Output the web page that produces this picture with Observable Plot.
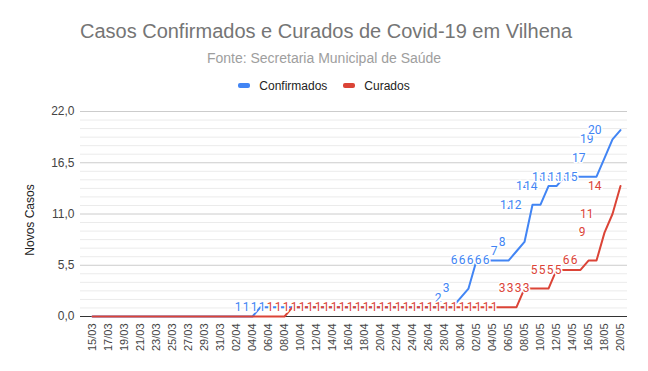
<!DOCTYPE html>
<html>
<head>
<meta charset="utf-8">
<script src="https://cdn.jsdelivr.net/npm/d3@7"></script>
<script src="https://cdn.jsdelivr.net/npm/@observablehq/plot@0.6"></script>
<style>
  html, body { margin: 0; padding: 0; background: #fff; }
  #wrap { position: relative; width: 648px; height: 371px; overflow: hidden; font-family: "Liberation Sans", Arial, sans-serif; }
  #wrap svg { position: absolute; left: 0; top: 0; }
  .t { position: absolute; white-space: nowrap; }
</style>
</head>
<body>
<div id="wrap">
  <div class="t" id="title" style="left:0;width:648px;top:20px;text-align:center;font-size:20px;color:#757575;padding-left:2px;">Casos Confirmados e Curados de Covid-19 em Vilhena</div>
  <div class="t" id="subtitle" style="left:0;width:648px;top:50px;text-align:center;font-size:14px;color:#9e9e9e;">Fonte: Secretaria Municipal de Saúde</div>
  <div class="t" id="legend" style="left:0;width:648px;top:77px;text-align:center;font-size:12px;color:#222;"></div>
  <div class="t" id="ytitle" style="left:30px;top:220px;font-size:12px;color:#222;transform:translate(-50%,-50%) rotate(-90deg);">Novos Casos</div>
</div>
<script>
const dates = [
  "15/03","16/03","17/03","18/03","19/03","20/03","21/03","22/03","23/03","24/03","25/03","26/03","27/03","28/03","29/03","30/03","31/03",
  "01/04","02/04","03/04","04/04","05/04","06/04","07/04","08/04","09/04","10/04","11/04","12/04","13/04","14/04","15/04","16/04","17/04","18/04","19/04","20/04","21/04","22/04","23/04","24/04","25/04","26/04","27/04","28/04","29/04","30/04",
  "01/05","02/05","03/05","04/05","05/05","06/05","07/05","08/05","09/05","10/05","11/05","12/05","13/05","14/05","15/05","16/05","17/05","18/05","19/05","20/05"
];
const confirmados = [
  0,0,0,0,0,0,0,0,0,0,0,0,0,0,0,0,0,
  0,0,0,0,1,1,1,1,1,1,1,1,1,1,1,1,1,1,1,1,1,1,1,1,1,1,1,1,1,2,
  3,6,6,6,6,6,7,8,12,12,14,14,15,15,15,15,15,17,19,20
];
const curados = [
  0,0,0,0,0,0,0,0,0,0,0,0,0,0,0,0,0,
  0,0,0,0,0,0,0,0,1,1,1,1,1,1,1,1,1,1,1,1,1,1,1,1,1,1,1,1,1,1,
  1,1,1,1,1,1,1,3,3,3,3,5,5,5,5,6,6,9,11,14
];
const seriesNames = ["Confirmados", "Curados"];
const seriesColors = ["#4285f4", "#db4437"];
const yTicks = [0, 5.5, 11, 16.5, 22];
const xTickLabels = dates.filter((d, i) => i % 2 === 0);

const long = [];
dates.forEach((d, i) => {
  long.push({date: d, series: seriesNames[0], value: confirmados[i]});
});
dates.forEach((d, i) => {
  long.push({date: d, series: seriesNames[1], value: curados[i]});
});
const minor = [];
for (let k = 0; k < yTicks.length - 1; k++) {
  const step = (yTicks[k + 1] - yTicks[k]) / 6;
  for (let j = 1; j < 6; j++) minor.push(yTicks[k] + j * step);
}
const fmt = v => v.toFixed(1).replace(".", ",");

const chart = Plot.plot({
  width: 648,
  height: 371,
  marginLeft: 87,
  marginRight: 23,
  marginTop: 111,
  marginBottom: 55,
  style: {fontFamily: "'Liberation Sans', Arial, sans-serif", fontSize: "12px", color: "#444", background: "transparent"},
  x: {type: "point", domain: dates, padding: 0, label: null},
  y: {domain: [0, 22], label: null},
  color: {domain: seriesNames, range: seriesColors},
  marks: [
    Plot.ruleY(minor, {stroke: "#ebebeb", strokeWidth: 1, insetLeft: -7, insetRight: -2}),
    Plot.ruleY(yTicks.filter(v => v > 0), {stroke: "#cccccc", strokeWidth: 1, insetLeft: -7, insetRight: -2}),
    Plot.axisY({ticks: yTicks, tickSize: 0, tickPadding: 13, tickFormat: fmt, fontSize: 12, label: null}),
    Plot.axisX({ticks: xTickLabels, tickSize: 0, tickRotate: -90, tickPadding: 7, fontSize: 11, label: null}),
    Plot.ruleY([0], {stroke: "#333", strokeWidth: 1, insetLeft: -7, insetRight: -2}),
    Plot.line(long, {x: "date", y: "value", z: "series", stroke: "series", strokeWidth: 2}),
    Plot.text(long.filter(d => d.value > 0), {
      x: "date", y: "value", text: d => String(d.value), fill: "series",
      textAnchor: "end", dx: -19, fontSize: 12, fontFamily: "Roboto",
      stroke: "white", strokeWidth: 3, paintOrder: "stroke"
    })
  ]
});
document.getElementById("wrap").prepend(chart);

const legend = document.getElementById("legend");
legend.innerHTML = seriesNames.map((n, i) =>
  `<span style="display:inline-flex;align-items:center;margin:0 8px;"><span style="display:inline-block;width:12px;height:5px;border-radius:2px;background:${seriesColors[i]};margin-right:9px;"></span>${n}</span>`
).join("");
</script>
</body>
</html>
